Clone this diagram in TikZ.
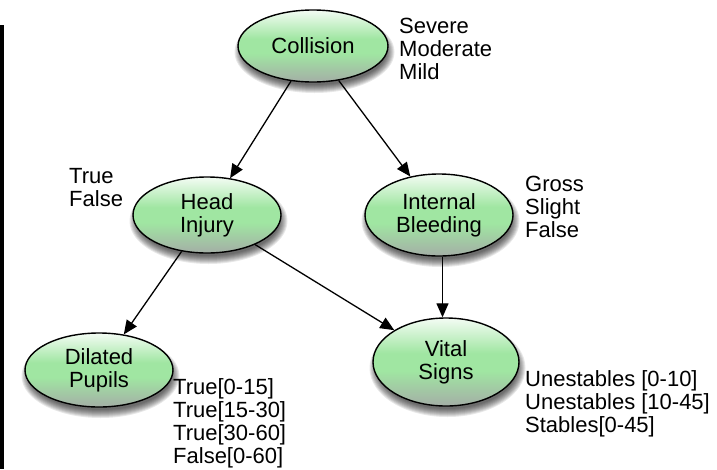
\documentclass[tikz,border=0pt]{standalone}
\usepackage{fontspec}
\setmainfont{Liberation Sans}
\usetikzlibrary{shapes.geometric,arrows.meta,calc,backgrounds}

\definecolor{gtop}{RGB}{244,252,244}
\definecolor{gmid}{RGB}{160,230,162}
\definecolor{gbot}{RGB}{164,174,166}

% vertical gradient: grey-green at the foot, bright green across the middle, pale at the top
\pgfdeclareverticalshading{ellgrad}{100bp}{%
  color(0bp)=(gbot); color(25bp)=(gbot); color(45bp)=(gmid);
  color(55bp)=(gmid); color(75bp)=(gtop); color(100bp)=(gtop)}

\tikzset{
  var/.style={ellipse, draw=black, line width=1.4pt, inner sep=0pt,
    shading=ellgrad, align=center, font=\fontsize{22}{23}\selectfont},
  states/.style={anchor=base west, align=left, inner sep=0pt,
    font=\fontsize{22}{23}\selectfont},
  link/.style={line width=1.3pt, -{Triangle[length=14pt,width=12pt]}},
  shadowpart/.style={fill=black, opacity=0.09},
}

% soft shadow under an ellipse node: #1 name, #2/#3 half axes
\newcommand{\ellshadow}[3]{%
  \foreach \k in {0,...,8}{%
    \fill[shadowpart] ($(#1.center)+(1.5,6)$) ellipse ({#2+5-\k} and {#3+5-\k});
  }%
}

\begin{document}
\begin{tikzpicture}[x=1pt, y=-1pt]
  \useasboundingbox (0,0) rectangle (717,469);
  \fill[black] (0,25) rectangle (4,469);

  % network nodes
  \node[var, minimum width=150pt, minimum height=72pt] (col) at (313,46) {Collision};
  \node[var, minimum width=148pt, minimum height=76pt] (head) at (207,215) {Head\\Injury};
  \node[var, minimum width=148pt, minimum height=82pt] (ib) at (439,215) {Internal\\Bleeding};
  \node[var, minimum width=148pt, minimum height=74pt] (dil) at (99,370) {Dilated\\Pupils};
  \node[var, minimum width=146pt, minimum height=88pt] (vs) at (446,362) {Vital\\Signs};

  \begin{scope}[on background layer]
    \ellshadow{col}{75}{36}
    \ellshadow{head}{74}{38}
    \ellshadow{ib}{74}{41}
    \ellshadow{dil}{74}{37}
    \ellshadow{vs}{73}{44}
  \end{scope}

  % state lists (anchored at the baseline of their last line)
  \node[states] (scol) at (399,79) {Severe\\Moderate\\Mild};
  \node[states] (shead) at (69,206) {True\\False};
  \node[states] (sib) at (525,237) {Gross\\Slight\\False};
  \node[states] (sdil) at (173,463) {True[0-15]\\True[15-30]\\True[30-60]\\False[0-60]};
  \node[states] (svs) at (525,432) {Unestables [0-10]\\Unestables [10-45]\\Stables[0-45]};

  % dependencies
  \draw[link] (col) -- (head);
  \draw[link] (col) -- (ib);
  \draw[link] (head) -- (dil);
  \draw[link] (head) -- (vs);
  \coordinate (mid) at ($(ib.south)!0.5!(vs.north)$);
  \draw[link] (ib.south -| mid) -- (vs.north -| mid);
\end{tikzpicture}
\end{document}
